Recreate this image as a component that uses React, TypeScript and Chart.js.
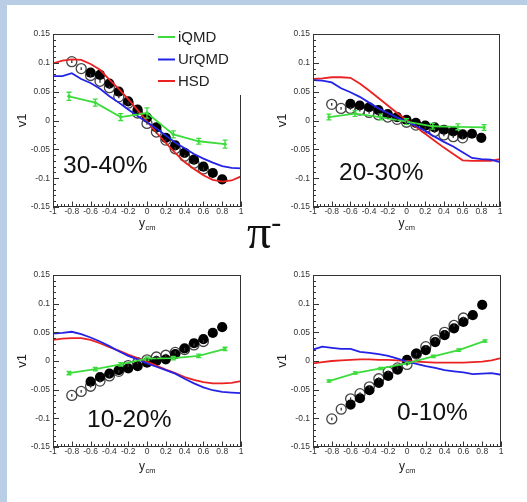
import React, { useEffect, useRef } from 'react';
import { Chart, registerables } from 'chart.js';
Chart.register(...registerables);

const FONT = '"Liberation Sans", Arial, Helvetica, sans-serif';
const SERIF = '"Liberation Serif", "DejaVu Serif", serif';
const BAND = '#b9cde5';

// ---------- data ----------
const modelX = [-1, -0.9, -0.8, -0.7, -0.6, -0.5, -0.4, -0.3, -0.2, -0.1, 0, 0.1, 0.2, 0.3, 0.4, 0.5, 0.6, 0.7, 0.8, 0.9, 1];
const iqmdX = [-0.83, -0.55, -0.28, 0, 0.28, 0.55, 0.83];
const filledX = [-0.6, -0.5, -0.4, -0.3, -0.2, -0.1, 0, 0.1, 0.2, 0.3, 0.4, 0.5, 0.6, 0.7, 0.8];
const openX = [-0.8, -0.7, -0.6, -0.5, -0.4, -0.3, -0.2, -0.1, 0, 0.1, 0.2, 0.3, 0.4, 0.5, 0.6];

const xTicks = [-1, -0.8, -0.6, -0.4, -0.2, 0, 0.2, 0.4, 0.6, 0.8, 1];
const xTickLabels = ['-1', '-0.8', '-0.6', '-0.4', '-0.2', '0', '0.2', '0.4', '0.6', '0.8', '1'];
const yTicks = [-0.15, -0.1, -0.05, 0, 0.05, 0.1, 0.15];
const yTickLabels = ['-0.15', '-0.1', '-0.05', '0', '0.05', '0.1', '0.15'];

const models = ['iQMD', 'UrQMD', 'HSD'];
const modelColors = ['#3ddc3d', '#2323e8', '#ea2222'];
const centralities = ['30-40%', '20-30%', '10-20%', '0-10%'];

// 30-40%
const hsd3040 = [0.099, 0.104, 0.106, 0.105, 0.098, 0.088, 0.071, 0.055, 0.037, 0.018, -0.001, -0.021, -0.039, -0.056, -0.072, -0.084, -0.095, -0.103, -0.106, -0.104, -0.097];
const urqmd3040 = [0.077, 0.077, 0.082, 0.072, 0.065, 0.055, 0.042, 0.031, 0.019, 0.008, -0.003, -0.014, -0.026, -0.038, -0.048, -0.058, -0.066, -0.073, -0.079, -0.082, -0.083];
const iqmd3040 = [0.042, 0.031, 0.006, 0.013, -0.024, -0.036, -0.041];
const iqmdErr3040 = [0.007, 0.006, 0.006, 0.009, 0.006, 0.005, 0.007];
const filled3040 = [0.083, 0.079, 0.064, 0.05, 0.033, 0.019, 0.005, -0.012, -0.03, -0.043, -0.056, -0.068, -0.08, -0.091, -0.102];
const open3040 = [0.102, 0.09, 0.078, 0.068, 0.057, 0.041, 0.03, 0.013, -0.005, -0.02, -0.034, -0.049, -0.062, -0.074, -0.084];

// 20-30%
const hsd2030 = [0.072, 0.073, 0.075, 0.075, 0.074, 0.064, 0.052, 0.039, 0.026, 0.013, 0.001, -0.011, -0.023, -0.035, -0.047, -0.058, -0.069, -0.07, -0.07, -0.07, -0.067];
const urqmd2030 = [0.07, 0.069, 0.066, 0.056, 0.049, 0.041, 0.031, 0.021, 0.013, 0.005, -0.002, -0.009, -0.018, -0.028, -0.037, -0.045, -0.055, -0.065, -0.067, -0.068, -0.072];
const iqmd2030 = [0.006, 0.012, 0.006, -0.002, -0.01, -0.011, -0.012];
const iqmdErr2030 = [0.005, 0.005, 0.005, 0.005, 0.005, 0.005, 0.005];
const filled2030 = [0.029, 0.026, 0.023, 0.018, 0.011, 0.006, 0.001, -0.004, -0.009, -0.012, -0.016, -0.019, -0.024, -0.023, -0.03];
const open2030 = [0.028, 0.021, 0.021, 0.018, 0.014, 0.01, 0.006, 0.002, -0.003, -0.008, -0.013, -0.019, -0.025, -0.028, -0.03];

// 10-20%
const hsd1020 = [0.037, 0.039, 0.04, 0.04, 0.037, 0.031, 0.024, 0.018, 0.011, 0.005, -0.001, -0.008, -0.015, -0.021, -0.028, -0.033, -0.037, -0.039, -0.039, -0.038, -0.035];
const urqmd1020 = [0.048, 0.049, 0.051, 0.047, 0.041, 0.034, 0.026, 0.017, 0.009, 0.003, -0.004, -0.01, -0.016, -0.022, -0.031, -0.039, -0.046, -0.051, -0.054, -0.055, -0.056];
const iqmd1020 = [-0.021, -0.014, -0.006, 0.004, 0.005, 0.009, 0.021];
const iqmdErr1020 = [0.003, 0.003, 0.003, 0.003, 0.003, 0.003, 0.003];
const filled1020 = [-0.036, -0.028, -0.022, -0.016, -0.013, -0.009, -0.003, 0.0, 0.003, 0.012, 0.022, 0.031, 0.038, 0.049, 0.059];
const open1020 = [-0.06, -0.053, -0.044, -0.035, -0.026, -0.018, -0.008, -0.003, 0.002, 0.007, 0.01, 0.015, 0.02, 0.028, 0.034];

// 0-10%
const hsd0010 = [-0.004, -0.002, 0.0, 0.001, 0.002, 0.003, 0.003, 0.002, 0.002, 0.001, 0.0, -0.001, -0.002, -0.003, -0.003, -0.003, -0.003, -0.002, -0.001, 0.001, 0.005];
const urqmd0010 = [0.02, 0.025, 0.023, 0.021, 0.021, 0.016, 0.014, 0.012, 0.009, 0.004, -0.001, -0.005, -0.009, -0.012, -0.016, -0.018, -0.02, -0.023, -0.022, -0.021, -0.024];
const iqmd0010 = [-0.035, -0.021, -0.013, -0.004, 0.008, 0.019, 0.035];
const iqmdErr0010 = [0.002, 0.002, 0.002, 0.002, 0.002, 0.002, 0.002];
const filled0010 = [-0.076, -0.065, -0.051, -0.038, -0.026, -0.015, 0.002, 0.013, 0.019, 0.033, 0.045, 0.057, 0.068, 0.08, 0.098];
const open0010 = [-0.101, -0.084, -0.066, -0.057, -0.045, -0.031, -0.019, -0.012, -0.006, 0.012, 0.025, 0.037, 0.05, 0.062, 0.075];

const openInnerErr = 0.0025;

const series = [
  { hsd: hsd3040, urqmd: urqmd3040, iqmd: iqmd3040, iqmdErr: iqmdErr3040, filled: filled3040, open: open3040 },
  { hsd: hsd2030, urqmd: urqmd2030, iqmd: iqmd2030, iqmdErr: iqmdErr2030, filled: filled2030, open: open2030 },
  { hsd: hsd1020, urqmd: urqmd1020, iqmd: iqmd1020, iqmdErr: iqmdErr1020, filled: filled1020, open: open1020 },
  { hsd: hsd0010, urqmd: urqmd0010, iqmd: iqmd0010, iqmdErr: iqmdErr0010, filled: filled0010, open: open0010 },
];

// ---------- layout ----------
const geoms = [
  { left: 0, top: 0, w: 260, h: 250, area: { l: 53, t: 34, r: 241, b: 207 }, label: { x: 63, y: 166 }, legend: true, titleOff: 20 },
  { left: 260, top: 0, w: 267, h: 250, area: { l: 53, t: 34, r: 240, b: 207 }, label: { x: 79, y: 173 }, legend: false, titleOff: 20 },
  { left: 0, top: 250, w: 260, h: 252, area: { l: 53, t: 25, r: 241, b: 197 }, label: { x: 87, y: 170 }, legend: false, titleOff: 23 },
  { left: 260, top: 250, w: 267, h: 252, area: { l: 53, t: 25, r: 241, b: 197 }, label: { x: 137, y: 163 }, legend: false, titleOff: 23 },
];

const pts = (xs: number[], ys: number[]) => xs.map((x, i) => ({ x, y: ys[i] }));

const rootPlugin = {
  id: 'rootStyle',
  afterDatasetsDraw(chart: any) {
    const { ctx, chartArea: a, scales } = chart;
    const xs = scales.x;
    const ys = scales.y;
    ctx.save();
    // error bars
    chart.data.datasets.forEach((ds: any) => {
      if (!ds.errors && !ds.innerErr) return;
      ctx.strokeStyle = ds.errColor || ds.borderColor;
      ctx.lineWidth = 1.3;
      ds.data.forEach((p: any, i: number) => {
        const e = ds.errors ? ds.errors[i] : ds.innerErr;
        const px = xs.getPixelForValue(p.x);
        const y1 = ys.getPixelForValue(p.y - e);
        const y2 = ys.getPixelForValue(p.y + e);
        ctx.beginPath();
        ctx.moveTo(px, y1);
        ctx.lineTo(px, y2);
        if (ds.cap) {
          ctx.moveTo(px - ds.cap, y1);
          ctx.lineTo(px + ds.cap, y1);
          ctx.moveTo(px - ds.cap, y2);
          ctx.lineTo(px + ds.cap, y2);
        }
        ctx.stroke();
      });
    });
    // frame
    ctx.strokeStyle = '#333';
    ctx.lineWidth = 1;
    ctx.strokeRect(Math.round(a.left) + 0.5, Math.round(a.top) + 0.5, Math.round(a.right - a.left) - 1, Math.round(a.bottom - a.top) - 1);
    // ticks (inward, ROOT style)
    ctx.beginPath();
    for (let i = 0; i < xTicks.length; i++) {
      const px = Math.round(xs.getPixelForValue(xTicks[i])) + 0.5;
      ctx.moveTo(px, a.bottom);
      ctx.lineTo(px, a.bottom - 5.5);
      if (i < xTicks.length - 1) {
        for (let k = 1; k < 5; k++) {
          const v = xTicks[i] + ((xTicks[i + 1] - xTicks[i]) * k) / 5;
          const q = Math.round(xs.getPixelForValue(v)) + 0.5;
          ctx.moveTo(q, a.bottom);
          ctx.lineTo(q, a.bottom - 3);
        }
      }
    }
    for (let i = 0; i < yTicks.length; i++) {
      const py = Math.round(ys.getPixelForValue(yTicks[i])) + 0.5;
      ctx.moveTo(a.left, py);
      ctx.lineTo(a.left + 6, py);
      if (i < yTicks.length - 1) {
        for (let k = 1; k < 5; k++) {
          const v = yTicks[i] + ((yTicks[i + 1] - yTicks[i]) * k) / 5;
          const q = Math.round(ys.getPixelForValue(v)) + 0.5;
          ctx.moveTo(a.left, q);
          ctx.lineTo(a.left + 3, q);
        }
      }
    }
    ctx.stroke();
    ctx.restore();
  },
  afterDraw(chart: any) {
    const { ctx, chartArea: a } = chart;
    const o = chart.options.plugins.rootStyle;
    ctx.save();
    // x-axis title y_cm
    const cx = (a.left + a.right) / 2;
    ctx.fillStyle = '#222';
    ctx.textBaseline = 'alphabetic';
    ctx.textAlign = 'left';
    ctx.font = `12px ${FONT}`;
    const wy = ctx.measureText('y').width;
    ctx.font = `7.5px ${FONT}`;
    const wcm = ctx.measureText('cm').width;
    const sx = cx - (wy + wcm) / 2;
    ctx.font = `12px ${FONT}`;
    ctx.fillText('y', sx, a.bottom + o.titleOff);
    ctx.font = `7.5px ${FONT}`;
    ctx.fillText('cm', sx + wy + 0.5, a.bottom + o.titleOff + 3);
    // centrality label
    ctx.fillStyle = '#111';
    ctx.font = `24.5px ${FONT}`;
    ctx.textBaseline = 'middle';
    ctx.fillText(o.label, o.lx, o.ly);
    // legend
    if (o.legend) {
      ctx.fillStyle = '#fff';
      ctx.fillRect(154, 14, 100, 81);
      const dss = chart.data.datasets.slice(0, 3);
      const rows = [37, 59.5, 81];
      dss.forEach((ds: any, i: number) => {
        ctx.strokeStyle = ds.borderColor;
        ctx.lineWidth = 2;
        ctx.beginPath();
        ctx.moveTo(158, rows[i]);
        ctx.lineTo(175, rows[i]);
        ctx.stroke();
        ctx.fillStyle = '#222';
        ctx.font = `15px ${FONT}`;
        ctx.textBaseline = 'middle';
        ctx.fillText(ds.label, 178, rows[i] + 0.5);
      });
    }
    ctx.restore();
  },
};

function Panel({ idx }: { idx: number }) {
  const ref = useRef<HTMLCanvasElement>(null);
  const g = geoms[idx];
  useEffect(() => {
    const s = series[idx];
    const area = g.area;
    const chart = new Chart(ref.current as HTMLCanvasElement, {
      type: 'line',
      data: {
        datasets: [
          {
            label: models[0], data: pts(iqmdX, s.iqmd), borderColor: modelColors[0], backgroundColor: modelColors[0],
            borderWidth: 1.8, pointRadius: 1.7, pointBorderWidth: 0, showLine: true, order: 1,
            errors: s.iqmdErr, cap: 2.5,
          } as any,
          { label: models[1], data: pts(modelX, s.urqmd), borderColor: modelColors[1], backgroundColor: modelColors[1], borderWidth: 1.8, pointRadius: 0, showLine: true, order: 2 },
          { label: models[2], data: pts(modelX, s.hsd), borderColor: modelColors[2], backgroundColor: modelColors[2], borderWidth: 1.8, pointRadius: 0, showLine: true, order: 3 },
          { label: 'data', data: pts(filledX, s.filled), borderColor: '#000', backgroundColor: '#000', borderWidth: 0, pointRadius: 5.1, showLine: false, order: 4 },
          {
            label: 'reflected', data: pts(openX, s.open), borderColor: '#444', backgroundColor: 'rgba(255,255,255,0)',
            borderWidth: 1.3, pointRadius: 5, showLine: false, order: 5, innerErr: openInnerErr, errColor: '#333',
          } as any,
        ],
      },
      options: {
        responsive: false,
        animation: false,
        events: [],
        layout: { padding: { left: 0, top: area.t, right: g.w - area.r, bottom: 0 } },
        plugins: {
          legend: { display: false },
          tooltip: { enabled: false },
          rootStyle: { label: centralities[idx], lx: g.label.x, ly: g.label.y, legend: g.legend, titleOff: g.titleOff },
        } as any,
        scales: {
          x: {
            type: 'linear', min: -1, max: 1,
            grid: { display: false, drawTicks: false },
            border: { display: false },
            afterBuildTicks: (sc: any) => { sc.ticks = xTicks.map((v) => ({ value: v })); },
            afterFit: (sc: any) => { sc.height = g.h - area.b; },
            ticks: {
              autoSkip: false, maxRotation: 0, minRotation: 0, padding: 0, color: '#333',
              font: { family: FONT, size: 8.5, lineHeight: 1 },
              callback: (_v: any, i: number) => xTickLabels[i],
            },
          },
          y: {
            type: 'linear', min: -0.15, max: 0.15,
            grid: { display: false, drawTicks: false },
            border: { display: false },
            afterBuildTicks: (sc: any) => { sc.ticks = yTicks.map((v) => ({ value: v })); },
            afterFit: (sc: any) => { sc.width = area.l; },
            ticks: {
              autoSkip: false, padding: 3, color: '#333',
              font: { family: FONT, size: 8.5, lineHeight: 1 },
              callback: (_v: any, i: number) => yTickLabels[i],
            },
            title: { display: true, text: 'v1', color: '#222', font: { family: FONT, size: 13 }, padding: { top: 15, bottom: 0 } },
          },
        },
      } as any,
      plugins: [rootPlugin],
    });
    return () => chart.destroy();
  }, []);
  return (
    <canvas
      ref={ref}
      width={g.w}
      height={g.h}
      style={{ position: 'absolute', left: g.left, top: g.top, width: g.w, height: g.h }}
    />
  );
}

export default function App() {
  return (
    <div style={{ position: 'fixed', left: 0, top: 0, width: 527, height: 502, background: '#fff', overflow: 'hidden' }}>
      <div style={{ position: 'absolute', left: 0, top: 0, width: 527, height: 5, background: BAND }} />
      <div style={{ position: 'absolute', left: 0, top: 0, width: 7, height: 502, background: BAND }} />
      {[0, 1, 2, 3].map((i) => <Panel key={i} idx={i} />)}
      <div style={{ position: 'absolute', left: 247, top: 208, fontFamily: SERIF, fontSize: 48, lineHeight: 1, color: '#111', whiteSpace: 'nowrap' }}>
        π<span style={{ fontSize: 30, position: 'relative', top: -16 }}>-</span>
      </div>
    </div>
  );
}
